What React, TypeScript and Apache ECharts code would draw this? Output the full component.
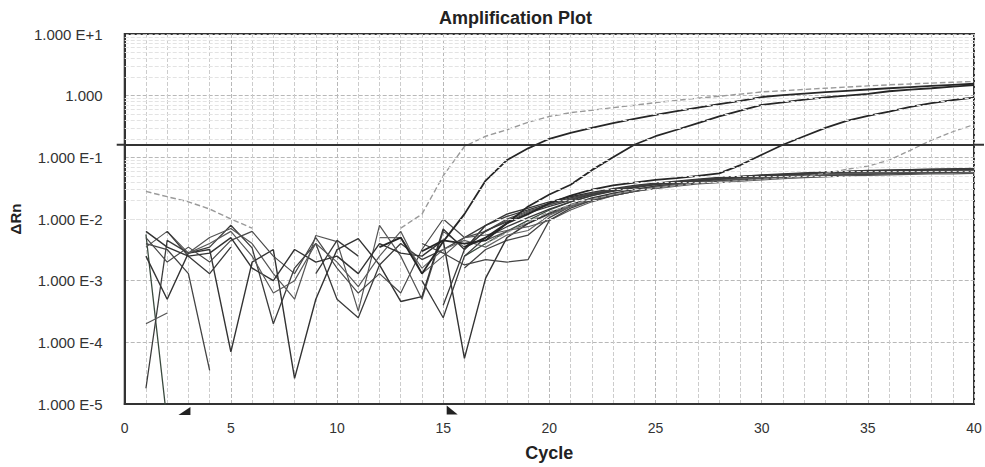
import React, { useEffect, useRef } from "react";
import * as echarts from "echarts";

const _ = null;

const cycles = [1, 2, 3, 4, 5, 6, 7, 8, 9, 10, 11, 12, 13, 14, 15, 16, 17, 18, 19, 20, 21, 22, 23, 24, 25, 26, 27, 28, 29, 30, 31, 32, 33, 34, 35, 36, 37, 38, 39, 40];

const threshold = 0.16;
const baselineStart = 3;
const baselineEnd = 15;
const yMin = 0.00001;
const yMax = 10;
const decades = [0.00001, 0.0001, 0.001, 0.01, 0.1, 1];
const minorSteps = [2, 3, 4, 5, 6, 7, 8, 9];

// amplifying wells
const wellA = [0.028, 0.023, 0.019, 0.0145, 0.01, 0.0071, _, _, _, _, _, _, 0.0071, 0.012, 0.05, 0.15, 0.22, 0.28, 0.37, 0.46, 0.53, 0.58, 0.64, 0.7, 0.77, 0.84, 0.91, 0.98, 1.06, 1.15, 1.2, 1.26, 1.32, 1.38, 1.44, 1.5, 1.55, 1.6, 1.65, 1.7];
const wellB = [_, _, _, _, _, _, _, _, _, _, _, 0.0035, 0.005, 0.0013, 0.0043, 0.012, 0.042, 0.09, 0.14, 0.2, 0.25, 0.3, 0.36, 0.42, 0.49, 0.56, 0.64, 0.73, 0.82, 0.95, 1.02, 1.08, 1.14, 1.2, 1.26, 1.32, 1.38, 1.44, 1.5, 1.56];
const wellC = [_, _, _, _, _, _, _, _, _, _, _, _, _, 0.003, 0.0045, 0.004, 0.0045, 0.0085, 0.016, 0.025, 0.036, 0.062, 0.1, 0.16, 0.22, 0.28, 0.36, 0.46, 0.57, 0.71, 0.78, 0.86, 0.94, 1.0, 1.07, 1.18, 1.25, 1.32, 1.4, 1.48];
const wellD = [_, _, _, _, _, _, _, _, _, _, _, _, _, _, _, 0.0035, 0.005, 0.0085, 0.012, 0.018, 0.024, 0.03, 0.035, 0.039, 0.043, 0.046, 0.05, 0.055, 0.075, 0.11, 0.16, 0.22, 0.3, 0.39, 0.47, 0.55, 0.66, 0.76, 0.85, 0.93];
const wellE = [_, _, _, _, _, _, _, _, _, _, _, _, _, _, _, _, 0.004, 0.006, 0.009, 0.013, 0.017, 0.021, 0.025, 0.029, 0.032, 0.035, 0.038, 0.04, 0.042, 0.044, 0.046, 0.049, 0.055, 0.064, 0.072, 0.09, 0.13, 0.19, 0.26, 0.34];

// non-amplifying / low-plateau wells
const well1 = [0.0056, 0.000005, _, _, _, _, _, _, _, _, _, _, _, _, _, 0.0025, 0.004, 0.0063, 0.0095, 0.014, 0.019, 0.024, 0.029, 0.033, 0.037, 0.04, 0.043, 0.046, 0.048, 0.05, 0.052, 0.053, 0.055, 0.056, 0.057, 0.058, 0.059, 0.06, 0.061, 0.062];
const well2 = [0.000018, 0.0045, 0.0028, 0.0035, 0.0079, 0.0034, 0.0002, 0.0016, 0.004, 0.0005, 0.00025, 0.0018, 0.004, 0.0022, 0.0032, 0.005, 0.0079, 0.011, 0.014, 0.018, 0.022, 0.026, 0.03, 0.034, 0.037, 0.04, 0.042, 0.045, 0.047, 0.049, 0.051, 0.053, 0.054, 0.056, 0.057, 0.058, 0.059, 0.06, 0.061, 0.062];
const well3 = [0.004, 0.0032, 0.0013, 0.000035, _, _, _, _, _, _, _, _, _, _, _, 0.0016, 0.0032, 0.0045, 0.0055, 0.0105, 0.016, 0.021, 0.026, 0.03, 0.034, 0.037, 0.04, 0.043, 0.045, 0.047, 0.049, 0.051, 0.052, 0.054, 0.055, 0.056, 0.057, 0.058, 0.059, 0.06];
const well4 = [0.0035, 0.0063, 0.0028, 0.005, 0.007, 0.004, 0.0013, 0.0005, 0.0054, 0.0043, 0.00032, 0.0079, 0.0025, 0.0005, 0.0063, 0.0035, 0.0063, 0.0095, 0.013, 0.017, 0.021, 0.025, 0.029, 0.033, 0.036, 0.039, 0.042, 0.044, 0.046, 0.048, 0.05, 0.051, 0.053, 0.054, 0.055, 0.056, 0.057, 0.058, 0.058, 0.059];
const well5 = [0.0025, 0.0005, 0.0028, 0.0032, 0.00007, 0.002, 0.0032, 0.000026, 0.0005, 0.0032, 0.0048, 0.0018, 0.00046, 0.00055, 0.0069, 0.0032, 0.0079, 0.012, 0.015, 0.019, 0.023, 0.027, 0.031, 0.035, 0.038, 0.041, 0.044, 0.047, 0.049, 0.052, 0.054, 0.056, 0.058, 0.059, 0.061, 0.062, 0.063, 0.064, 0.065, 0.066];
const well6 = [0.0002, 0.0003, _, _, _, _, _, _, _, _, _, _, _, _, _, _, 0.0045, 0.0063, 0.0085, 0.012, 0.016, 0.02, 0.024, 0.028, 0.031, 0.034, 0.037, 0.039, 0.041, 0.043, 0.045, 0.047, 0.048, 0.05, 0.051, 0.052, 0.053, 0.054, 0.054, 0.055];
const well7 = [0.005, 0.002, 0.0035, 0.002, 0.0045, 0.0063, 0.0025, 0.0013, 0.005, 0.0016, 0.00063, 0.0013, 0.00063, 0.0032, 0.01, 0.005, 0.0063, 0.01, 0.0135, 0.017, 0.021, 0.026, 0.03, 0.034, 0.037, 0.04, 0.043, 0.045, 0.047, 0.049, 0.051, 0.052, 0.054, 0.055, 0.056, 0.057, 0.058, 0.059, 0.06, 0.061];
const well8 = [_, 0.0063, 0.0025, 0.0013, 0.0035, _, _, _, 0.0013, 0.0045, 0.0025, _, _, 0.001, 0.00025, 0.0025, 0.005, 0.0075, 0.0105, 0.0145, 0.019, 0.024, 0.028, 0.032, 0.036, 0.039, 0.042, 0.045, 0.047, 0.05, 0.052, 0.054, 0.056, 0.058, 0.059, 0.06, 0.061, 0.062, 0.063, 0.064];
const well9 = [0.0063, 0.0035, 0.0025, 0.0028, 0.005, 0.0016, 0.001, 0.0032, 0.002, 0.0025, 0.0013, 0.004, 0.0028, 0.0025, 0.0045, 0.000055, 0.0011, 0.005, 0.0085, 0.0125, 0.017, 0.022, 0.026, 0.03, 0.034, 0.037, 0.04, 0.043, 0.045, 0.047, 0.049, 0.051, 0.053, 0.054, 0.055, 0.056, 0.057, 0.058, 0.059, 0.06];
const well10 = [_, _, _, _, _, _, _, _, _, _, _, 0.005, 0.005, 0.0016, 0.0032, 0.0045, 0.0035, 0.0055, 0.0065, 0.0115, 0.016, 0.02, 0.025, 0.029, 0.033, 0.036, 0.039, 0.042, 0.044, 0.046, 0.048, 0.05, 0.052, 0.053, 0.054, 0.055, 0.056, 0.057, 0.058, 0.058];
const well11 = [_, _, 0.0028, 0.004, 0.0063, 0.0025, 0.00063, 0.001, 0.004, 0.002, 0.0008, 0.0025, 0.0063, 0.0013, 0.0025, 0.005, 0.0055, 0.0065, 0.0075, 0.0095, 0.014, 0.019, 0.024, 0.028, 0.032, 0.036, 0.039, 0.042, 0.045, 0.047, 0.049, 0.051, 0.053, 0.055, 0.056, 0.057, 0.058, 0.059, 0.06, 0.061];
const well12 = [_, _, _, _, _, _, _, _, _, _, _, _, _, 0.004, 0.0028, 0.0018, 0.0022, 0.002, 0.0022, 0.0095, 0.015, 0.02, 0.024, 0.028, 0.032, 0.035, 0.038, 0.041, 0.043, 0.045, 0.047, 0.049, 0.05, 0.052, 0.053, 0.054, 0.055, 0.056, 0.057, 0.058];
const well13 = [_, _, _, _, _, _, _, _, _, _, _, _, _, _, 0.0004, 0.0032, 0.0065, 0.009, 0.0125, 0.016, 0.02, 0.025, 0.029, 0.033, 0.037, 0.04, 0.043, 0.046, 0.049, 0.051, 0.053, 0.055, 0.057, 0.059, 0.06, 0.062, 0.063, 0.064, 0.065, 0.066];

const wells = [
  { name: "W1", values: well1, color: "#3a4a3e", width: 1.3, dash: "solid" },
  { name: "W2", values: well2, color: "#3c3c3c", width: 1.3, dash: "solid" },
  { name: "W3", values: well3, color: "#444", width: 1.3, dash: "solid" },
  { name: "W4", values: well4, color: "#555", width: 1.2, dash: "solid" },
  { name: "W5", values: well5, color: "#333", width: 1.4, dash: "solid" },
  { name: "W6", values: well6, color: "#555", width: 1.2, dash: "solid" },
  { name: "W7", values: well7, color: "#4a4a4a", width: 1.2, dash: "solid" },
  { name: "W8", values: well8, color: "#3a3a3a", width: 1.3, dash: "solid" },
  { name: "W9", values: well9, color: "#333", width: 1.4, dash: "solid" },
  { name: "W10", values: well10, color: "#666", width: 1.2, dash: "solid" },
  { name: "W11", values: well11, color: "#5a5a5a", width: 1.2, dash: "solid" },
  { name: "W12", values: well12, color: "#444", width: 1.2, dash: "solid" },
  { name: "W13", values: well13, color: "#3a3a3a", width: 1.3, dash: "solid" },
  { name: "WE", values: wellE, color: "#9a9a9a", width: 1.3, dash: "dashed" },
  { name: "WA", values: wellA, color: "#9a9a9a", width: 1.4, dash: "dashed" },
  { name: "WB", values: wellB, color: "#262626", width: 1.8, dash: "solid" },
  { name: "WC", values: wellC, color: "#262626", width: 1.8, dash: "solid" },
  { name: "WD", values: wellD, color: "#262626", width: 1.8, dash: "solid" },
];

const FONT = "'Liberation Sans', Arial, sans-serif";

function fmtLog(v: number) {
  const e = Math.round(Math.log10(v));
  if (e === 0) return "1.000";
  return "1.000 E" + (e > 0 ? "+" + e : String(e));
}

export default function App() {
  const ref = useRef<HTMLDivElement>(null);
  useEffect(() => {
    document.body.style.margin = "0";
    if (!ref.current) return;
    const chart = echarts.init(ref.current, null, { renderer: "svg" });
    const minorLines: number[] = [];
    decades.forEach((d) => minorSteps.forEach((m) => minorLines.push(d * m)));

    const series: any[] = [
      {
        type: "line",
        name: "grid",
        data: [[0, yMax]],
        symbol: "none",
        lineStyle: { opacity: 0 },
        z: 1,
        silent: true,
        markLine: {
          silent: true,
          symbol: ["none", "none"],
          label: { show: false },
          lineStyle: { color: "#e3e3e3", type: "dashed", width: 1 },
          data: minorLines.map((v) => ({ yAxis: v })),
          animation: false,
        },
        markPoint: {
          silent: true,
          label: { show: false },
          animation: false,
          data: [
            {
              coord: [baselineStart, yMin],
              symbol: "path://M10,0 L10,8 L0,8 Z",
              symbolSize: [12, 8],
              symbolOffset: [-4, 7],
              itemStyle: { color: "#222" },
            },
            {
              coord: [baselineEnd, yMin],
              symbol: "path://M0,0 L0,8 L10,8 Z",
              symbolSize: [11, 9],
              symbolOffset: [9, 6],
              itemStyle: { color: "#222" },
            },
          ],
        },
      },
    ];
    wells.forEach((w) => {
      series.push({
        type: "line",
        name: w.name,
        data: cycles.map((c, i) => [c, w.values[i]]),
        symbol: "none",
        showSymbol: false,
        connectNulls: false,
        clip: true,
        silent: true,
        z: 3,
        lineStyle: { color: w.color, width: w.width, type: w.dash },
      });
    });
    series.push({
      type: "line",
      name: "threshold",
      data: [[0, yMax]],
      symbol: "none",
      lineStyle: { opacity: 0 },
      z: 5,
      silent: true,
      markLine: {
        silent: true,
        symbol: ["none", "none"],
        label: { show: false },
        lineStyle: { color: "#333", type: "solid", width: 2 },
        data: [{ yAxis: threshold }],
        animation: false,
      },
    });

    chart.setOption({
      animation: false,
      backgroundColor: "#fff",
      title: {
        text: "Amplification Plot",
        left: 434,
        top: 4,
        textStyle: { fontSize: 18, fontWeight: "bold", color: "#222", fontFamily: FONT },
      },
      grid: {
        left: 116,
        right: 11,
        top: 34,
        bottom: 61,
        show: true,
        borderColor: "#333",
        borderWidth: 2,
        backgroundColor: "#fff",
      },
      xAxis: {
        type: "value",
        min: 0,
        max: 40,
        interval: 5,
        name: "Cycle",
        nameLocation: "middle",
        nameGap: 40,
        nameTextStyle: { fontSize: 18, fontWeight: "bold", color: "#222", fontFamily: FONT },
        axisLine: { show: true, lineStyle: { color: "#333", width: 2 } },
        axisTick: { show: false },
        minorTick: { show: false, splitNumber: 5 },
        axisLabel: { fontSize: 14, color: "#333", margin: 17, fontFamily: FONT },
        splitLine: { show: true, lineStyle: { color: "#b8b8b8", type: "dashed", width: 1 } },
        minorSplitLine: { show: true, lineStyle: { color: "#cccccc", type: "dashed", width: 1 } },
      },
      yAxis: {
        type: "log",
        logBase: 10,
        min: yMin,
        max: yMax,
        splitNumber: 6,
        name: "ΔRn",
        nameLocation: "middle",
        nameGap: 84,
        nameRotate: 90,
        nameTextStyle: { fontSize: 15, fontWeight: "bold", color: "#222", fontFamily: FONT },
        axisLine: { show: true, lineStyle: { color: "#333", width: 2 } },
        axisTick: { show: false },
        axisLabel: { fontSize: 15, color: "#333", margin: 22, fontFamily: FONT, formatter: fmtLog },
        splitLine: { show: true, lineStyle: { color: "#b8b8b8", type: "dashed", width: 1 } },
      },
      series,
    });

    const py = chart.convertToPixel({ yAxisIndex: 0 }, threshold) as number;
    const x0 = chart.convertToPixel({ xAxisIndex: 0 }, 0) as number;
    const x1 = chart.convertToPixel({ xAxisIndex: 0 }, 40) as number;
    chart.setOption({
      graphic: [
        { type: "line", shape: { x1: x0 - 8, y1: py, x2: x0, y2: py }, style: { stroke: "#333", lineWidth: 2 } },
        { type: "line", shape: { x1: x1, y1: py, x2: x1 + 10, y2: py }, style: { stroke: "#333", lineWidth: 2 } },
      ],
    });

    return () => chart.dispose();
  }, []);
  return <div ref={ref} style={{ width: 985, height: 467 }} />;
}
